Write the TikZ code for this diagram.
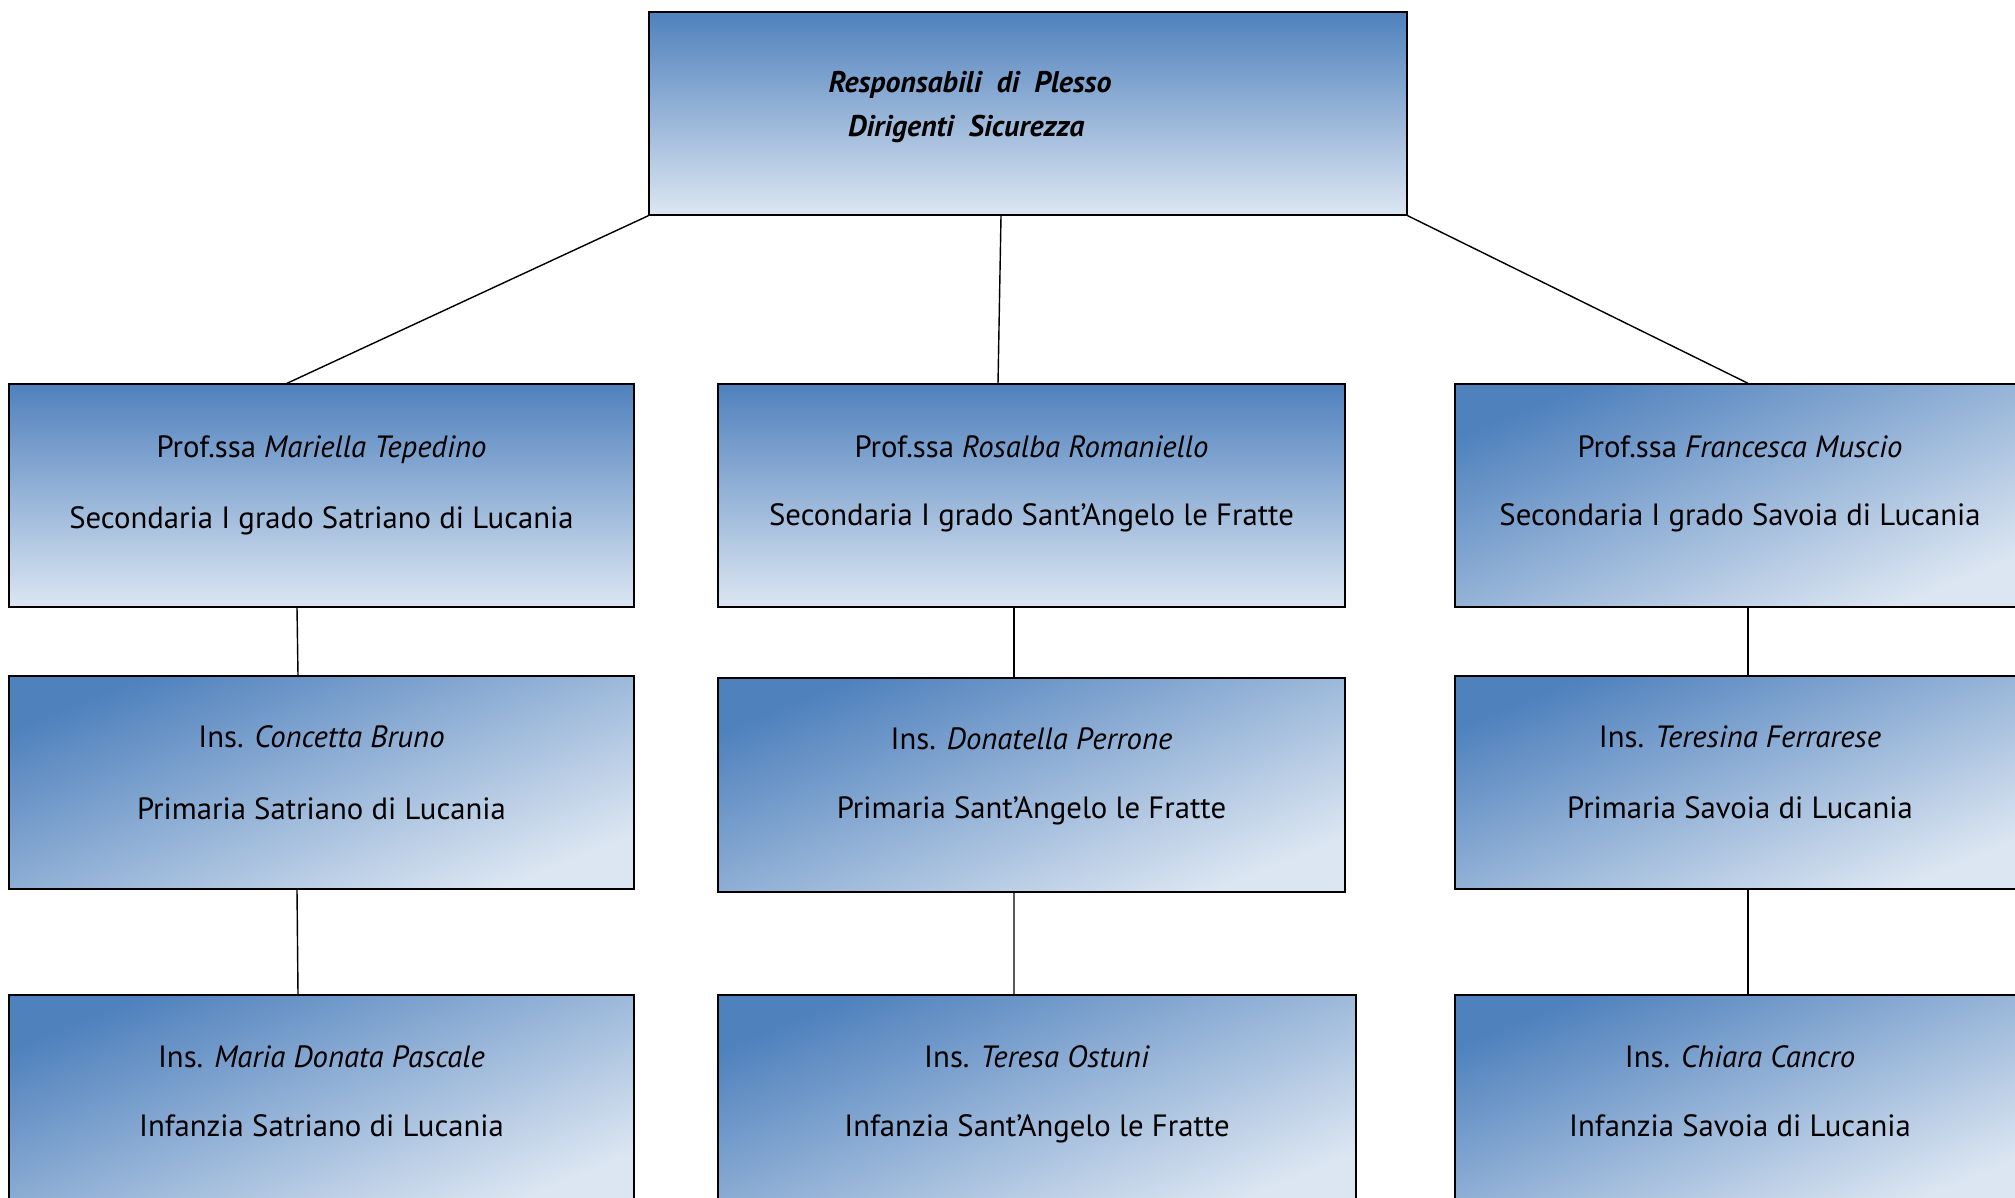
\documentclass[tikz,border=0pt]{standalone}
\usepackage{fontspec}
\setmainfont{PT Sans}
\usetikzlibrary{positioning}
\definecolor{boxblue}{RGB}{79,129,189}
\definecolor{boxlight}{RGB}{220,230,242}
\tikzset{
    orgbox/.style={draw=black, line width=0.8pt, inner sep=0pt},
    flatfill/.style={top color=boxblue, bottom color=boxlight},
    slantfill/.style={top color=boxblue, bottom color=boxlight, shading angle=22},
    boxtext/.style={anchor=north, align=center, inner sep=0pt, font=\fontsize{17.5}{21}\selectfont},
    link/.style={line width=0.8pt}
}
\begin{document}
\begin{tikzpicture}[x=0.02cm, y=-0.02cm]
    \useasboundingbox (0,0) rectangle (2015,1197);
    % top
    \node[orgbox, flatfill, minimum width=15.16cm, minimum height=4.06cm] (resp) at (1028,113.5) {};
    \node[align=center, inner sep=0pt, font=\fontsize{17}{25}\selectfont\bfseries\itshape] (resptxt) at (970,107)
        {Responsabili\ \ di\ \ Plesso\\Dirigenti\ \ Sicurezza\ \ };
    % secondaria
    \node[orgbox, flatfill, minimum width=12.5cm, minimum height=4.46cm] (secA) at (321.5,495.5) {};
    \node[orgbox, flatfill, minimum width=12.54cm, minimum height=4.46cm] (secB) at (1031.5,495.5) {};
    \node[orgbox, slantfill, minimum width=11.4cm, minimum height=4.46cm] (secC) at (1740,495.5) {};
    \node[boxtext, yshift=-1.04cm] (secAtxt) at (secA.north) {Prof.ssa \textit{Mariella Tepedino}\\[0.685cm]Secondaria I grado Satriano di Lucania};
    \node[boxtext, yshift=-1.04cm] (secBtxt) at (secB.north) {Prof.ssa \textit{Rosalba Romaniello}\\[0.625cm]Secondaria I grado Sant'Angelo le Fratte};
    \node[boxtext, yshift=-1.04cm] (secCtxt) at (secC.north) {Prof.ssa \textit{Francesca Muscio}\\[0.625cm]Secondaria I grado Savoia di Lucania};
    % primaria
    \node[orgbox, slantfill, minimum width=12.5cm, minimum height=4.26cm] (priA) at (321.5,782.5) {};
    \node[orgbox, slantfill, minimum width=12.54cm, minimum height=4.28cm] (priB) at (1031.5,785) {};
    \node[orgbox, slantfill, minimum width=11.4cm, minimum height=4.26cm] (priC) at (1740,782.5) {};
    \node[boxtext, yshift=-1.0cm] (priAtxt) at (priA.north) {Ins. \textit{Concetta Bruno}\\[0.705cm]Primaria Satriano di Lucania};
    \node[boxtext, yshift=-1.0cm] (priBtxt) at (priB.north) {Ins. \textit{Donatella Perrone}\\[0.645cm]Primaria Sant'Angelo le Fratte};
    \node[boxtext, yshift=-1.0cm] (priCtxt) at (priC.north) {Ins. \textit{Teresina Ferrarese}\\[0.68cm]Primaria Savoia di Lucania};
    % infanzia
    \node[orgbox, slantfill, minimum width=12.5cm, minimum height=4.26cm] (infA) at (321.5,1101.5) {};
    \node[orgbox, slantfill, minimum width=12.76cm, minimum height=4.26cm] (infB) at (1037,1101.5) {};
    \node[orgbox, slantfill, minimum width=11.4cm, minimum height=4.26cm] (infC) at (1740,1101.5) {};
    \node[boxtext, yshift=-1.02cm] (infAtxt) at (infA.north) {Ins. \textit{Maria Donata Pascale}\\[0.645cm]Infanzia Satriano di Lucania};
    \node[boxtext, yshift=-1.02cm] (infBtxt) at (infB.north) {Ins. \textit{Teresa Ostuni}\\[0.645cm]Infanzia Sant'Angelo le Fratte};
    \node[boxtext, yshift=-1.02cm] (infCtxt) at (infC.north) {Ins. \textit{Chiara Cancro}\\[0.645cm]Infanzia Savoia di Lucania};
    % links
    \draw[link] (resp.south west) -- ([xshift=-0.69cm]secA.north);
    \draw[link] ([xshift=-0.54cm]resp.south) -- ([xshift=-0.67cm]secB.north);
    \draw[link] (resp.south east) -- ([xshift=0.16cm]secC.north);
    \draw[link] ([xshift=-0.49cm]secA.south) -- ([xshift=-0.47cm]priA.north);
    \draw[link] ([xshift=-0.49cm]priA.south) -- ([xshift=-0.47cm]infA.north);
    \draw[link] ([xshift=-0.35cm]secB.south) -- ([xshift=-0.35cm]priB.north);
    \draw[link] ([xshift=-0.35cm]priB.south) -- ([xshift=-0.46cm]infB.north);
    \draw[link] ([xshift=0.16cm]secC.south) -- ([xshift=0.16cm]priC.north);
    \draw[link] ([xshift=0.16cm]priC.south) -- ([xshift=0.16cm]infC.north);
\end{tikzpicture}
\end{document}
